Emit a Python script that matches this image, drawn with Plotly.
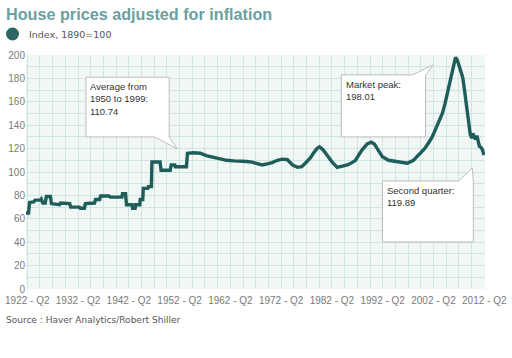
import plotly.graph_objects as go

# ---- data ----
years = [1922.0, 1922.5, 1922.7, 1923.5, 1923.8, 1924.8, 1925.0, 1925.3, 1925.8, 1926.0,
         1926.8, 1927.0, 1928.6, 1928.8, 1930.6, 1930.8, 1932.5, 1932.7, 1933.5, 1933.7,
         1935.5, 1935.7, 1936.5, 1936.7, 1938.3, 1938.6, 1940.9, 1941.0, 1941.6, 1941.8,
         1942.9, 1943.0, 1943.5, 1943.6, 1944.4, 1944.5, 1945.0, 1945.1, 1946.0, 1946.1,
         1946.7, 1946.8, 1948.4, 1948.6, 1950.4, 1950.6, 1951.3, 1951.4, 1953.6, 1953.8,
         1955.0, 1956.3, 1957.5, 1958.5, 1960.0, 1961.5, 1963.0, 1964.5, 1965.5, 1966.5,
         1967.5, 1968.5, 1969.5, 1970.5, 1971.5, 1972.5, 1973.5, 1974.5, 1975.5, 1976.3,
         1977.0, 1978.0, 1978.6, 1979.3, 1979.8, 1980.5, 1981.2, 1982.3, 1983.3, 1984.3,
         1985.3, 1986.2, 1986.9, 1987.6, 1988.2, 1989.2, 1990.0, 1990.6, 1991.2, 1992.2,
         1993.4, 1994.2, 1995.1, 1996.0, 1997.1, 1998.3, 1999.0, 1999.7, 2000.5, 2001.3,
         2002.0, 2002.6, 2003.3, 2004.0, 2004.5, 2005.0, 2005.5, 2006.0, 2006.3, 2006.6,
         2007.0, 2007.4, 2008.0, 2008.3, 2008.6, 2008.9, 2009.2, 2009.5, 2009.8, 2010.0,
         2010.2, 2010.5, 2010.8, 2011.0, 2011.3, 2011.6, 2011.9, 2012.2]
index_values = [65, 65, 74, 74.5, 76, 76, 77, 73.5, 73.5, 79,
                79, 73, 72, 73.5, 73, 70, 70, 69, 69, 73,
                73.5, 76.5, 76.5, 79.5, 79.5, 78.5, 78.5, 81.5, 81.5, 72,
                72, 69, 69, 72, 72, 76.5, 76.5, 86, 86, 87.5,
                87.5, 108.5, 108.5, 101.5, 101.5, 106, 106, 104.5, 104.5, 116,
                116.5, 116, 114, 113, 111, 110, 109.5, 109.5, 109, 108.5,
                107.5, 106, 107, 108, 110, 111, 110.5, 106, 104, 104.5,
                107.5, 112, 116, 120, 121.5, 119, 115, 108.5, 104, 105,
                106, 108, 110, 115, 119, 124, 125.5, 124, 120, 113,
                110, 109.5, 108.5, 108, 107.5, 110, 113, 116, 120, 125,
                130, 136, 143, 150, 158, 167.5, 177, 187, 194, 198,
                195, 190, 181, 172, 161.5, 150, 138.5, 132, 129, 133,
                131, 128, 131, 127, 122, 121, 119, 114.5]

tick_years = [1922.25, 1932.25, 1942.25, 1952.25, 1962.25, 1972.25, 1982.25, 1992.25, 2002.25, 2012.25]
tick_labels = ["1922 - Q2", "1932 - Q2", "1942 - Q2", "1952 - Q2", "1962 - Q2",
               "1972 - Q2", "1982 - Q2", "1992 - Q2", "2002 - Q2", "2012 - Q2"]

series_name = "Index, 1890=100"
callout_texts = ["Average from<br>1950 to 1999:<br>110.74",
                 "Market peak:<br>198.01",
                 "Second quarter:<br>119.89"]

LINE = "#1f5d5b"
GRID = "#cfe5e0"

W, H = 512, 358
ML, MR, MT, MB = 26, 27, 55, 69
PW, PH = W - ML - MR, H - MT - MB


def px_x(px):
    return (px - ML) / PW


def px_y(py):
    return (H - MB - py) / PH


fig = go.Figure()
fig.add_trace(go.Scatter(x=years, y=index_values, mode="lines", name=series_name,
                         line=dict(color=LINE, width=3.4), showlegend=False,
                         hoverinfo="skip"))

# callout shapes (box + tail), in data coordinates
def box_bottom_tail(x0, x1, ytop, ybot, xb, tipx, tipy):
    return (f"M{x0},{ytop} L{x1},{ytop} L{x1},{ybot} L{tipx},{tipy} "
            f"L{xb},{ybot} L{x0},{ybot} Z")


def box_top_tail(x0, x1, ytop, ybot, xb, tipx, tipy):
    return (f"M{x0},{ytop} L{xb},{ytop} L{tipx},{tipy} L{x1},{ytop} "
            f"L{x1},{ybot} L{x0},{ybot} Z")


paths = [
    box_bottom_tail(1933.8, 1950.2, 181, 130, 1947.3, 1951.8, 119.7),
    box_top_tail(1984.1, 2000.7, 183, 130, 1998.1, 2002.2, 191.5),
    box_top_tail(1992.2, 2010.1, 92.3, 40.2, 2007.2, 2009.9, 103.4),
]
for p in paths:
    fig.add_shape(type="path", path=p, xref="x", yref="y",
                  fillcolor="white", line=dict(color="#bdbdbd", width=1), layer="above")

text_pos = [(1934.3, 179.5), (1984.6, 181.5), (1992.7, 90.5)]
for (tx, ty), t in zip(text_pos, callout_texts):
    fig.add_annotation(x=tx, y=ty, xref="x", yref="y", text=t, showarrow=False,
                       xanchor="left", yanchor="top", align="left",
                       font=dict(family="Liberation Sans, Arial", size=9.5, color="#333333"))

# title
fig.add_annotation(x=px_x(4), y=px_y(14), xref="paper", yref="paper",
                   text="<b>House prices adjusted for inflation</b>", showarrow=False,
                   xanchor="left", yanchor="middle",
                   font=dict(family="Liberation Sans, Arial", size=16.2, color="#6b9fa0"))

# legend: circle + label
fig.add_shape(type="circle", xref="paper", yref="paper",
              x0=px_x(6), x1=px_x(19), y0=px_y(40.5), y1=px_y(27.5),
              fillcolor="#2a6664", line=dict(width=0))
fig.add_annotation(x=px_x(27), y=px_y(34), xref="paper", yref="paper",
                   text=series_name, showarrow=False, xanchor="left", yanchor="middle",
                   font=dict(family="DejaVu Sans, Verdana", size=9.5, color="#555555"))

fig.add_annotation(x=px_x(4), y=px_y(320), xref="paper", yref="paper",
                   text="Source : Haver Analytics/Robert Shiller", showarrow=False,
                   xanchor="left", yanchor="middle",
                   font=dict(family="DejaVu Sans, Verdana", size=9, color="#555555"))

fig.update_layout(
    width=W, height=H,
    margin=dict(l=ML, r=MR, t=MT, b=MB, autoexpand=False),
    paper_bgcolor="white", plot_bgcolor="#f0f7f5",
    showlegend=False,
    xaxis=dict(range=[1922.0, 2012.4], tickvals=tick_years, ticktext=tick_labels,
               tickangle=0, automargin=False, ticklabelstandoff=4,
               showgrid=True, gridcolor=GRID, gridwidth=1, zeroline=False,
               showline=False, ticks="",
               minor=dict(tick0=1922.25, dtick=2.5, showgrid=True, gridcolor=GRID, gridwidth=1),
               tickfont=dict(family="Liberation Sans, Arial", size=10, color="#7a7a7a")),
    yaxis=dict(range=[0, 200], dtick=20, showgrid=True, gridcolor=GRID, gridwidth=1,
               zeroline=False, showline=False, ticks="", automargin=False,
               minor=dict(dtick=10, showgrid=True, gridcolor=GRID, gridwidth=1),
               tickfont=dict(family="Liberation Sans, Arial", size=10, color="#7a7a7a")),
)

fig.write_html("out.html", config={"displayModeBar": False},
               post_script="document.body.style.margin='0';document.body.style.overflow='hidden';")
